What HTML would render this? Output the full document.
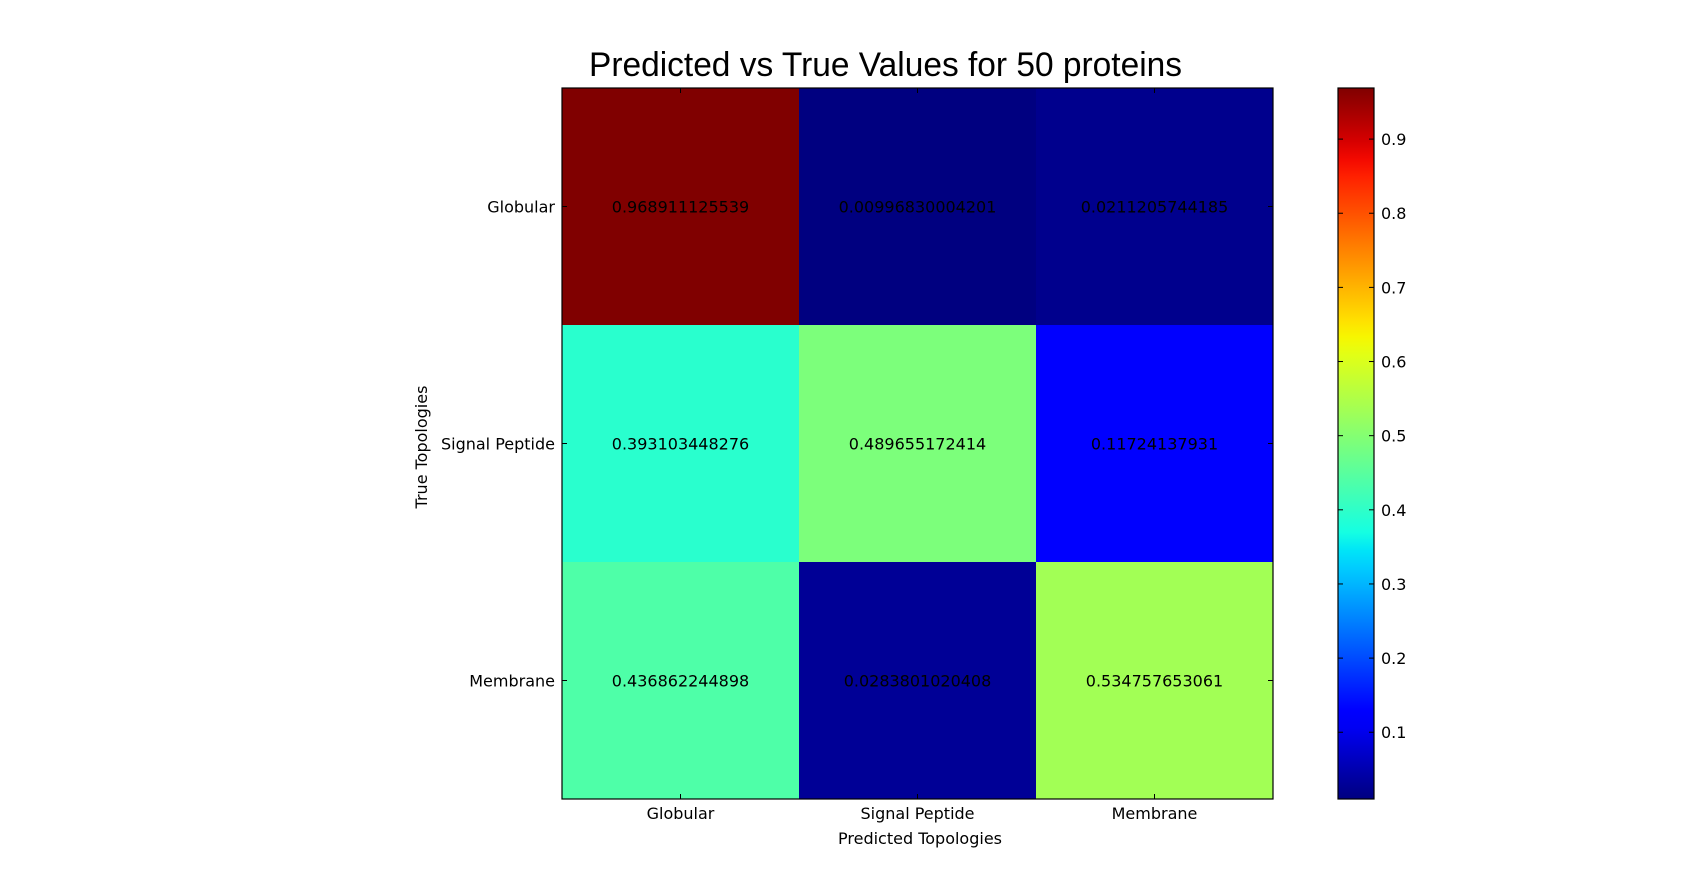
<!DOCTYPE html>
<html><head><meta charset="utf-8"><style>
html,body{margin:0;padding:0;background:#fff;}
svg text{font-family:"DejaVu Sans","Liberation Sans",sans-serif;}
</style></head><body>
<svg id="chart" width="1707" height="888" viewBox="0 0 1707 888" xmlns="http://www.w3.org/2000/svg">
<rect width="1707" height="888" fill="#fff"/>
<text x="589" y="76" textLength="593" lengthAdjust="spacingAndGlyphs" font-size="34" style="font-family:'Liberation Sans Narrow','Liberation Sans',sans-serif">Predicted vs True Values for 50 proteins</text>
<g id="cells"></g>
<g id="axes"></g>
<g id="cbar"></g>
<text x="920" y="844" text-anchor="middle" font-size="16">Predicted Topologies</text>
<text transform="translate(427,447) rotate(-90)" text-anchor="middle" font-size="16">True Topologies</text>
</svg>
<script>
const categories = ["Globular","Signal Peptide","Membrane"];
const row0 = [0.968911125539, 0.00996830004201, 0.0211205744185];
const row1 = [0.393103448276, 0.489655172414, 0.11724137931];
const row2 = [0.436862244898, 0.0283801020408, 0.534757653061];
const valueLabels0 = ["0.968911125539","0.00996830004201","0.0211205744185"];
const valueLabels1 = ["0.393103448276","0.489655172414","0.11724137931"];
const valueLabels2 = ["0.436862244898","0.0283801020408","0.534757653061"];
const cbarTicks = [0.1,0.2,0.3,0.4,0.5,0.6,0.7,0.8,0.9];

const NS="http://www.w3.org/2000/svg";
const rows=[row0,row1,row2], labels=[valueLabels0,valueLabels1,valueLabels2];
const L=562,T=88,W=711,H=711;
const all=rows.flat(); const vmin=Math.min(...all), vmax=Math.max(...all);
const cw=W/categories.length, ch=H/categories.length;
const xPos=i=>L+i*cw, yPos=j=>T+j*ch;
const JR=[[0,0],[0.35,0],[0.66,1],[0.89,1],[1,0.5]];
const JG=[[0,0],[0.125,0],[0.375,1],[0.64,1],[0.91,0],[1,0]];
const JB=[[0,0.5],[0.11,1],[0.34,1],[0.65,0],[1,0]];
function seg(p,t){for(let k=1;k<p.length;k++){if(t<=p[k][0]){const a=p[k-1],b=p[k];return a[1]+(b[1]-a[1])*(t-a[0])/(b[0]-a[0]);}}return p[p.length-1][1];}
function jet(v){
  const t=Math.max(0,Math.min(1,(v-vmin)/(vmax-vmin)));
  const c=x=>Math.round(255*x);
  return `rgb(${c(seg(JR,t))},${c(seg(JG,t))},${c(seg(JB,t))})`;
}
function mk(tag,attrs,parent){const e=document.createElementNS(NS,tag);for(const k in attrs)e.setAttribute(k,attrs[k]);parent.appendChild(e);return e;}
const cells=document.getElementById('cells');
rows.forEach((row,j)=>row.forEach((v,i)=>{
  const r=mk('rect',{x:xPos(i),y:yPos(j),width:cw+0.5,height:ch+0.5,fill:jet(v)},cells);
  
  
  const t=mk('text',{x:xPos(i)+cw/2,y:yPos(j)+ch/2+6,'text-anchor':'middle','font-size':16,fill:'#000'},cells);
  t.textContent=labels[j][i];
  
  
}));
const axes=document.getElementById('axes');
const fr=mk('rect',{x:L,y:T,width:W,height:H,fill:'none',stroke:'#000','stroke-width':1.2},axes);


categories.forEach((c,i)=>{
  const cx=xPos(i)+cw/2, cy=yPos(i)+ch/2;
  mk('line',{x1:cx,y1:T+H,x2:cx,y2:T+H-5,stroke:'#000'},axes);
  mk('line',{x1:cx,y1:T,x2:cx,y2:T+5,stroke:'#000'},axes);
  mk('line',{x1:L,y1:cy,x2:L+5,y2:cy,stroke:'#000'},axes);
  mk('line',{x1:L+W,y1:cy,x2:L+W-5,y2:cy,stroke:'#000'},axes);
  const xl=mk('text',{x:cx,y:T+H+20,'text-anchor':'middle','font-size':16},axes);
  xl.textContent=c;
  
  
  const yl=mk('text',{x:L-7,y:cy+6,'text-anchor':'end','font-size':16},axes);
  yl.textContent=c;
  
  
});
const cb=document.getElementById('cbar');
const CX=1338,CW=36,CT=88,CH=711;
const defs=mk('defs',{},cb);
const grad=mk('linearGradient',{id:'jetg',x1:0,y1:1,x2:0,y2:0},defs);
for(let k=0;k<=40;k++){const v=vmin+(vmax-vmin)*k/40;mk('stop',{offset:k/40,'stop-color':jet(v)},grad);}
const cr=mk('rect',{x:CX,y:CT,width:CW,height:CH,fill:'url(#jetg)',stroke:'#000','stroke-width':1.2},cb);


const cy=v=>CT+CH-(v-vmin)/(vmax-vmin)*CH;
cbarTicks.forEach(v=>{
  const y=cy(v);
  mk('line',{x1:CX+CW,y1:y,x2:CX+CW-5,y2:y,stroke:'#000'},cb);
  mk('line',{x1:CX,y1:y,x2:CX+5,y2:y,stroke:'#000'},cb);
  const t=mk('text',{x:CX+CW+7,y:y+6,'font-size':16},cb);
  t.textContent=v.toFixed(1);
  
  
});
</script>
</body></html>
